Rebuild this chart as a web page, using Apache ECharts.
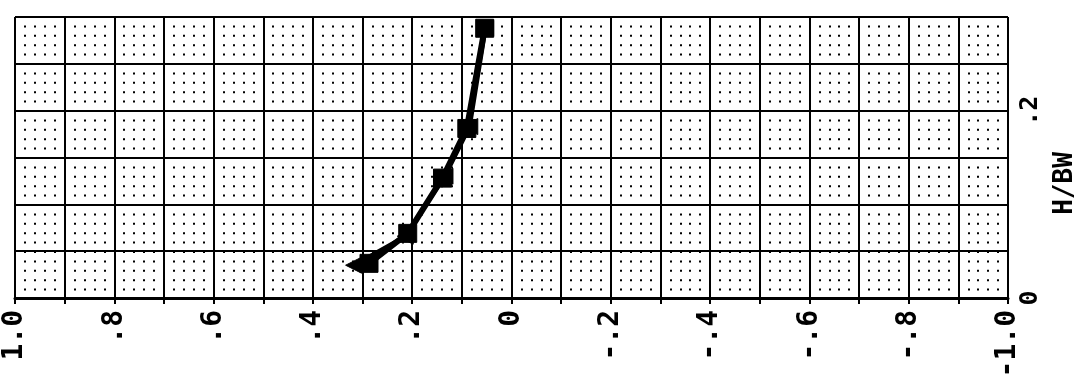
<!DOCTYPE html>
<html>
<head>
<meta charset="utf-8">
<script src="https://cdn.jsdelivr.net/npm/echarts@6/dist/echarts.min.js"></script>
<style>
  html, body { margin: 0; padding: 0; background: #fff; }
  #chart { width: 1086px; height: 385px; }
</style>
</head>
<body>
<div id="chart"></div>
<script>
// horizontal axis runs from 1.0 (left) to -1.0 (right)
var xTicks = [1.0, 0.8, 0.6, 0.4, 0.2, 0, -0.2, -0.4, -0.6, -0.8, -1.0];
var yTicks = [0, 0.2];

// H/BW vs. horizontal value
var sqX = [0.054, 0.090, 0.139, 0.209, 0.287];
var sqY = [0.288, 0.181, 0.128, 0.069, 0.037];
var triX = [0.052, 0.084, 0.134, 0.214, 0.318];
var triY = [0.288, 0.183, 0.130, 0.066, 0.035];

function pairs(xs, ys) {
    var out = [];
    for (var i = 0; i < xs.length; i++) {
        out.push([xs[i], ys[i]]);
    }
    return out;
}

function fmt(v) {
    if (Math.abs(v) < 1e-9) return '0';
    var s = Math.abs(v).toFixed(1);
    if (s.charAt(0) == '0') s = s.substring(1);
    return (v < 0 ? '-' : '') + s;
}

function inList(list) {
    return function (v) {
        for (var i = 0; i < list.length; i++) {
            if (Math.abs(list[i] - v) < 1e-6) return fmt(v);
        }
        return '';
    };
}

var myChart = echarts.init(document.getElementById('chart'));
var option = {
    backgroundColor: '#fff',
    animation: false,
    grid: {
        left: 15,
        right: 67,
        top: 17,
        bottom: 87
    },
    xAxis: {
        type: 'value',
        min: -1,
        max: 1,
        interval: 0.1,
        inverse: true,
        axisLine: { lineStyle: { color: '#000', width: 3 } },
        axisTick: {
            show: true,
            length: 6,
            lineStyle: { color: '#000', width: 2 }
        },
        axisLabel: {
            rotate: 90,
            margin: 12,
            color: '#000',
            fontFamily: 'DejaVu Sans Mono',
            fontWeight: 'bold',
            fontSize: 28,
            formatter: inList(xTicks)
        },
        splitLine: { show: true, lineStyle: { color: '#000', width: 2 } },
        minorTick: { show: false, splitNumber: 5 },
        minorSplitLine: {
            show: true,
            lineStyle: { color: '#000', width: 2, type: [2, 7.4], dashOffset: -8.4 }
        }
    },
    yAxis: {
        type: 'value',
        position: 'right',
        min: 0,
        max: 0.3,
        interval: 0.05,
        name: 'H/BW',
        nameLocation: 'middle',
        nameRotate: 90,
        nameGap: 44,
        nameTextStyle: {
            color: '#000',
            fontFamily: 'DejaVu Sans Mono',
            fontWeight: 'bold',
            fontSize: 26,
            padding: [0, 52, 0, 0]
        },
        axisLine: { show: true, lineStyle: { color: '#000', width: 2 } },
        axisTick: {
            show: false
        },
        axisLabel: {
            rotate: 90,
            margin: 10,
            color: '#000',
            fontFamily: 'DejaVu Sans Mono',
            fontWeight: 'bold',
            fontSize: 25,
            formatter: inList(yTicks)
        },
        splitLine: { show: true, lineStyle: { color: '#000', width: 2 } }
    },
    series: [
        {
            type: 'line',
            data: pairs(triX, triY),
            symbol: 'triangle',
            symbolSize: 16,
            symbolRotate: 90,
            lineStyle: { color: '#000', width: 4 },
            itemStyle: { color: '#000', borderColor: '#000' }
        },
        {
            type: 'line',
            data: pairs(sqX, sqY),
            symbol: 'rect',
            symbolSize: 18,
            lineStyle: { color: '#000', width: 6 },
            itemStyle: { color: '#000', borderColor: '#000' }
        }
    ]
};
myChart.setOption(option);
</script>
</body>
</html>
